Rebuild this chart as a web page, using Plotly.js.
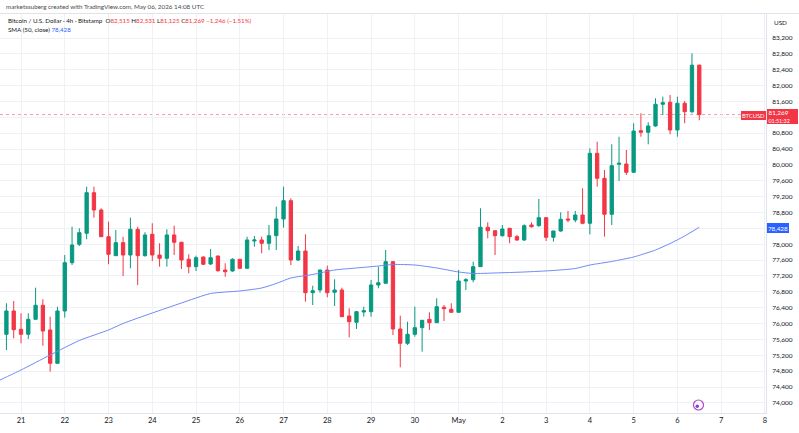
<!DOCTYPE html>
<html>
<head>
<meta charset="utf-8">
<script src="https://cdn.plot.ly/plotly-3.0.1.min.js"></script>
<style>
html,body{margin:0;padding:0;background:#fff;}
#chart{width:799px;height:433px;}
</style>
</head>
<body>
<div id="chart"></div>
<script>
// ---- Data (BTCUSD 4h candles, Bitstamp) ----
const firstCandle = '2026-04-20T16:00:00Z';
const stepHours = 4;

const openP = [75730,76318,75856,75730,76108,76461,75839,74999,76318,77535,
77999,78277,79300,78864,78191,77712,78040,77729,78377,77712,
78251,77729,77646,78234,78050,77621,77435,77679,77503,77704,
77351,77326,77621,77394,78082,78108,78024,78216,78637,79098,
77603,77830,76779,76847,77351,76789,76847,76192,76033,76292,
76300,76973,77016,77561,75864,75503,75730,75897,76108,76023,
76411,76360,76285,77074,77107,77435,78428,78342,78216,78403,
78191,78108,78486,78468,78670,78176,78334,78637,78612,78738,
78529,80293,79663,78755,80016,80024,79814,80863,80823,80982,
81529,81580,80881,81554,81342,82515];

const highP = [76512,76570,76260,76260,76905,76613,76174,76426,77729,78443,
78403,79451,79451,78907,78569,78360,78191,78670,78443,78302,
78529,78024,78377,78468,78060,77747,77712,77690,77881,77715,
77520,77646,77630,78191,78208,78191,78486,78947,79451,79159,
77956,78251,76955,77360,77460,77117,76905,76386,76318,76426,
77099,77435,77855,77570,76199,76048,76426,76090,76285,76638,
76469,76512,77351,77142,77561,78907,78554,78350,78486,78410,
78234,78503,78554,79141,78680,78340,78806,78839,78839,79411,
80419,80586,79872,80520,80712,80376,81050,81302,81075,81680,
81720,81763,81720,81612,82814,82531];

const lowP = [75334,75629,75503,75612,76100,75443,74787,74990,76149,77477,
77956,78125,78670,78185,77495,77705,77200,77394,76973,77687,
77578,77435,77435,77729,77376,77268,77326,77477,77477,77308,
77182,77308,77380,77390,77939,77772,77855,77855,78418,77477,
77578,76552,76469,76779,76663,76444,76170,75655,75864,76174,
76174,76890,77010,75713,74898,75461,75670,75292,75839,76015,
76066,76280,76280,76847,77041,77430,78150,77729,78191,78024,
78082,78082,78418,78443,78082,78065,78317,78554,78554,78503,
78251,79451,78191,78486,79595,79746,79810,80712,80520,80965,
81259,80772,80712,81050,81302,81125];

const closeP = [76318,75846,75730,76108,76461,75813,74999,76318,77535,77982,
78292,79300,78864,78191,77747,78040,77729,78377,77712,78234,
77729,77646,78234,78050,77603,77435,77661,77495,77661,77334,
77308,77621,77394,78108,78108,78024,78216,78637,79098,77603,
77830,76779,76829,77351,76779,76847,76174,76048,76300,76325,
76973,77031,77561,75864,75503,75730,75897,76083,76023,76426,
76376,76285,77074,77107,77435,78428,78342,78216,78385,78191,
78108,78468,78443,78670,78176,78334,78629,78612,78738,78529,
80293,79663,78755,79981,80041,79814,80855,80823,80982,81529,
81569,80881,81554,81342,82515,81269];

// SMA(50, close) at selected candles (candle index, value)
const smaIndex = [-1,0,2,6,10,14,16,20,24,28,32,35,37,39,42,45,48,51,53,56,59,62,64,67,71,75,78,80,83,86,89,91,93,95];
const smaValue = [74566,74654,74830,75208,75574,75839,76003,76267,76519,76759,76822,76897,77011,77150,77238,77351,77402,77452,77490,77477,77402,77301,77263,77276,77301,77339,77389,77477,77566,77679,77855,78019,78208,78428];

const dayTicks = ['2026-04-21','2026-04-22','2026-04-23','2026-04-24','2026-04-25','2026-04-26','2026-04-27','2026-04-28','2026-04-29','2026-04-30','2026-05-01','2026-05-02','2026-05-03','2026-05-04','2026-05-05','2026-05-06','2026-05-07','2026-05-08'];
const dayLabels = ['21','22','23','24','25','26','27','28','29','30','May','2','3','4','5','6','7','8'];
const priceTicks = [74000,74400,74800,75200,75600,76000,76400,76800,77200,77600,78000,78400,78800,79200,79600,80000,80400,80800,81200,81600,82000,82400,82800,83200];
// labels hidden behind the last-price and SMA boxes are left blank
const priceLabels = ['74,000','74,400','74,800','75,200','75,600','76,000','76,400','76,800','77,200','77,600','78,000','','78,800','79,200','79,600','80,000','80,400','80,800','','81,600','82,000','82,400','82,800','83,200'];

const lastPrice = 81269;
const lastSma = 78428;

// ---- helpers ----
function tAt(i){
  const d = new Date(Date.parse(firstCandle) + i*stepHours*3600000);
  return d.toISOString().slice(0,16).replace('T',' ');
}
const times = openP.map((_, i) => tAt(i));
const smaTimes = smaIndex.map(tAt);

const PW = 766, PT = 14, PB = 413, PH = PB - PT;
const px = x => x / PW;
const py = y => (PB - y) / PH;

const GREEN = '#089981', RED = '#F23645', BLUE = '#2962FF';

const traces = [
  {
    type: 'scatter', mode: 'lines', x: smaTimes, y: smaValue,
    line: {color: '#7089f6', width: 1, shape: 'spline', smoothing: 0.6},
    hoverinfo: 'skip', showlegend: false
  },
  {
    type: 'candlestick', x: times, open: openP, high: highP, low: lowP, close: closeP,
    increasing: {line: {color: GREEN, width: 1}, fillcolor: GREEN},
    decreasing: {line: {color: RED, width: 1}, fillcolor: RED},
    whiskerwidth: 0, hoverinfo: 'skip', showlegend: false
  }
];

const red = s => `<span style="color:${RED}">${s}</span>`;

const layout = {
  width: 799, height: 433,
  margin: {l: 0, r: 799 - PW, t: PT, b: 433 - PB, pad: 0},
  paper_bgcolor: '#ffffff', plot_bgcolor: '#ffffff',
  font: {family: 'Lato, "Open Sans", sans-serif', color: '#131722'},
  showlegend: false,
  boxgap: 0.35,
  xaxis: {
    type: 'date', range: ['2026-04-20 12:29', '2026-05-08 00:36'],
    tickmode: 'array', tickvals: dayTicks, ticktext: dayLabels,
    showgrid: true, gridcolor: '#f0f1f4', gridwidth: 1,
    zeroline: false, showline: true, linecolor: '#e0e3eb', linewidth: 1,
    ticks: '', tickfont: {size: 7.5, color: '#131722'},
    rangeslider: {visible: false}, fixedrange: true
  },
  yaxis: {
    side: 'right', range: [73746, 83805],
    tickmode: 'array', tickvals: priceTicks, ticktext: priceLabels,
    showgrid: true, gridcolor: '#f0f1f4', gridwidth: 1,
    zeroline: false, showline: true, linecolor: '#e0e3eb', linewidth: 1,
    ticks: '', ticklabelstandoff: 4, tickfont: {size: 6.5, color: '#131722'}, fixedrange: true
  },
  shapes: [
    {type: 'line', xref: 'paper', yref: 'paper', x0: 0, x1: px(799), y0: py(13.5), y1: py(13.5),
     line: {color: '#e0e3eb', width: 1}},
    {type: 'line', xref: 'paper', yref: 'y', x0: 0, x1: 1, y0: lastPrice, y1: lastPrice,
     line: {color: 'rgba(242,54,69,0.5)', width: 1, dash: 'dot'}, layer: 'below'},
    {type: 'circle', xref: 'paper', yref: 'paper', x0: px(693.5), x1: px(703.5), y0: py(410), y1: py(400),
     fillcolor: 'rgba(0,0,0,0)', line: {color: '#b04ad0', width: 1.2}, layer: 'above'},
    {type: 'circle', xref: 'paper', yref: 'paper', x0: px(695.5), x1: px(699), y0: py(408), y1: py(404.5),
     fillcolor: '#7b3fe4', line: {width: 0}, layer: 'above'}
  ],
  annotations: [
    {xref: 'paper', yref: 'paper', x: px(4), y: py(7), xanchor: 'left', yanchor: 'middle', showarrow: false,
     text: 'marketssuberg created with TradingView.com, May 06, 2026 14:08 UTC',
     font: {size: 6.3, color: '#4a4a4a'}},
    {xref: 'paper', yref: 'paper', x: px(6), y: py(20), xanchor: 'left', yanchor: 'middle', showarrow: false,
     text: 'Bitcoin / U.S. Dollar · 4h · Bitstamp  O' + red('82,515') + ' H' + red('82,531') + ' L' + red('81,125') + ' C' + red('81,269') + ' ' + red('−1,246 (−1.51%)'),
     font: {size: 6.2, color: '#131722'}},
    {xref: 'paper', yref: 'paper', x: px(6), y: py(29.5), xanchor: 'left', yanchor: 'middle', showarrow: false,
     text: 'SMA (50, close) <span style="color:' + BLUE + '">78,428</span>',
     font: {size: 6.2, color: '#131722'}},
    {xref: 'paper', yref: 'paper', x: px(772), y: py(22), xanchor: 'left', yanchor: 'middle', showarrow: false,
     text: 'USD', font: {size: 6.3, color: '#131722'}},
    // last price box on the axis
    {xref: 'paper', yref: 'paper', x: px(767), y: py(116.5), xanchor: 'left', yanchor: 'middle', showarrow: false,
     width: 31, height: 15, bgcolor: RED, borderpad: 0, borderwidth: 0, align: 'left', valign: 'middle',
     text: ' 81,269<br><span style="font-size:5.4px"> 01:51:32</span>', font: {size: 6.3, color: '#ffffff'}},
    {xref: 'paper', yref: 'paper', x: px(741), y: py(115), xanchor: 'left', yanchor: 'middle', showarrow: false,
     width: 25, height: 9, bgcolor: RED, borderpad: 0, borderwidth: 0,
     text: 'BTCUSD', font: {size: 5.8, color: '#ffffff'}},
    {xref: 'paper', yref: 'paper', x: px(767), y: py(227.5), xanchor: 'left', yanchor: 'middle', showarrow: false,
     width: 22, height: 10, bgcolor: BLUE, borderpad: 0, borderwidth: 0,
     text: '78,428', font: {size: 6.3, color: '#ffffff'}}
  ]
};

Plotly.newPlot('chart', traces, layout, {staticPlot: true, displayModeBar: false});
</script>
</body>
</html>
